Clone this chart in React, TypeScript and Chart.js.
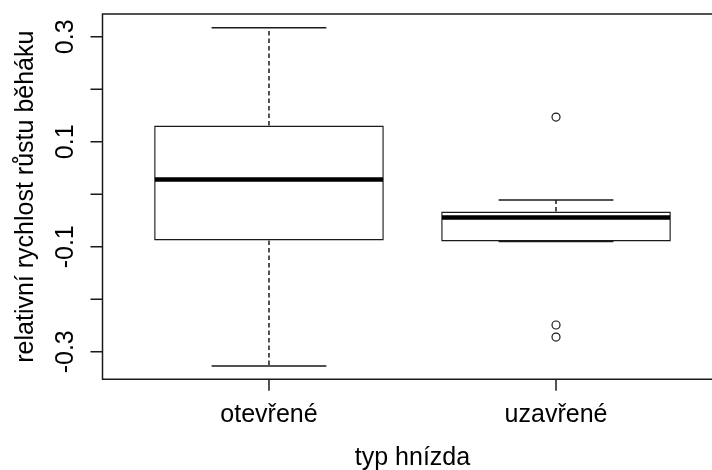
import React, { useEffect, useRef } from 'react';
import { Chart, registerables } from 'chart.js';

Chart.register(...registerables);

// Summary statistics per nest type (hind-limb relative growth rate)
const categories = ['otevřené', 'uzavřené'];
const lowerWhisker = [-0.327, -0.09];
const lowerQuartile = [-0.088, -0.09];
const medians = [0.028, -0.044];
const upperQuartile = [0.131, -0.033];
const upperWhisker = [0.317, -0.011];
const outlierValues: number[][] = [[], [0.147, -0.249, -0.272]];

const yTickValues = [-0.3, -0.2, -0.1, 0, 0.1, 0.2, 0.3];
const yTickLabels = ['-0.3', '', '-0.1', '', '0.1', '', '0.3'];

const xTitle = 'typ hnízda';
const yTitle = 'relativní rychlost růstu běháku';

const CANVAS_W = 740;
const CANVAS_H = 470;
const FONT = '25px "Liberation Sans", Arial, sans-serif';
const INK = '#1a1a1a';
const LINE_W = 1.5;

const boxPlotPlugin = {
  id: 'boxPlotParts',
  afterDatasetsDraw(chart: any) {
    const { ctx, scales } = chart;
    const x = scales.x;
    const y = scales.y;
    ctx.save();
    ctx.strokeStyle = INK;
    ctx.lineWidth = LINE_W;
    categories.forEach((_, i) => {
      const cx = x.getPixelForValue(i + 1);
      const capHalf = x.getPixelForValue(i + 1.2) - cx;
      const boxHalf = x.getPixelForValue(i + 1.4) - cx;
      // dashed whiskers
      ctx.setLineDash([4.5, 3]);
      ctx.beginPath();
      ctx.moveTo(cx, y.getPixelForValue(upperQuartile[i]));
      ctx.lineTo(cx, y.getPixelForValue(upperWhisker[i]));
      ctx.moveTo(cx, y.getPixelForValue(lowerQuartile[i]));
      ctx.lineTo(cx, y.getPixelForValue(lowerWhisker[i]));
      ctx.stroke();
      // whisker caps
      ctx.setLineDash([]);
      ctx.beginPath();
      const yu = y.getPixelForValue(upperWhisker[i]);
      const yl = y.getPixelForValue(lowerWhisker[i]);
      ctx.moveTo(cx - capHalf, yu);
      ctx.lineTo(cx + capHalf, yu);
      ctx.moveTo(cx - capHalf, yl);
      ctx.lineTo(cx + capHalf, yl);
      ctx.stroke();
      // median
      ctx.lineWidth = 4.5;
      ctx.strokeStyle = '#000';
      ctx.beginPath();
      const ym = y.getPixelForValue(medians[i]);
      ctx.moveTo(cx - boxHalf + 0.75, ym);
      ctx.lineTo(cx + boxHalf - 0.75, ym);
      ctx.stroke();
      ctx.lineWidth = LINE_W;
      ctx.strokeStyle = INK;
    });
    ctx.restore();
  },
  afterDraw(chart: any) {
    const { ctx, chartArea, scales } = chart;
    const x = scales.x;
    const y = scales.y;
    const { left, right, top, bottom } = chartArea;
    ctx.save();
    ctx.strokeStyle = INK;
    ctx.lineWidth = LINE_W;
    // plot frame (the right side lies beyond the visible area)
    ctx.beginPath();
    ctx.moveTo(right + 2, top);
    ctx.lineTo(left, top);
    ctx.lineTo(left, bottom);
    ctx.lineTo(right + 2, bottom);
    ctx.stroke();
    // y axis ticks
    ctx.beginPath();
    yTickValues.forEach((v) => {
      const py = y.getPixelForValue(v);
      ctx.moveTo(left, py);
      ctx.lineTo(left - 12, py);
    });
    // x axis ticks
    categories.forEach((_, i) => {
      const px = x.getPixelForValue(i + 1);
      ctx.moveTo(px, bottom);
      ctx.lineTo(px, bottom + 11.5);
    });
    ctx.stroke();

    ctx.fillStyle = '#000';
    ctx.font = FONT;
    ctx.textAlign = 'center';
    ctx.textBaseline = 'alphabetic';
    // category labels
    categories.forEach((c, i) => {
      ctx.fillText(c, x.getPixelForValue(i + 1), 421.5);
    });
    // x title
    ctx.fillText(xTitle, (left + right) / 2, 465);
    // y tick labels (vertical)
    yTickValues.forEach((v, i) => {
      if (!yTickLabels[i]) return;
      ctx.save();
      ctx.translate(72.5, y.getPixelForValue(v));
      ctx.rotate(-Math.PI / 2);
      ctx.fillText(yTickLabels[i], 0, 0);
      ctx.restore();
    });
    // y title
    ctx.save();
    ctx.translate(33, (top + bottom) / 2);
    ctx.rotate(-Math.PI / 2);
    ctx.fillText(yTitle, 0, 0);
    ctx.restore();
    ctx.restore();
  },
};

export default function App() {
  const canvasRef = useRef<HTMLCanvasElement | null>(null);

  useEffect(() => {
    const canvas = canvasRef.current;
    if (!canvas) return;
    const chart = new Chart(canvas, {
      type: 'bar',
      data: {
        datasets: [
          {
            type: 'bar',
            data: categories.map((_, i) => ({
              x: i + 1,
              y: [lowerQuartile[i], upperQuartile[i]],
            })) as any,
            backgroundColor: '#ffffff',
            borderColor: INK,
            borderWidth: LINE_W,
            borderSkipped: false,
            categoryPercentage: 1,
            barPercentage: 0.8,
          } as any,
          {
            type: 'scatter',
            data: outlierValues.flatMap((vals, i) =>
              vals.map((v) => ({ x: i + 1, y: v }))
            ),
            pointStyle: 'circle',
            pointRadius: 4,
            pointBorderWidth: 1.2,
            borderColor: INK,
            backgroundColor: 'rgba(0,0,0,0)',
          } as any,
        ],
      },
      options: {
        responsive: false,
        animation: false,
        devicePixelRatio: 1,
        layout: {
          padding: {
            left: 102.5,
            top: 14,
            right: CANVAS_W - 722.5,
            bottom: CANVAS_H - 379.3,
          },
        },
        plugins: {
          legend: { display: false },
          tooltip: { enabled: false },
        },
        scales: {
          x: {
            type: 'linear',
            display: false,
            offset: false,
            min: 0.42,
            max: 2.58,
            afterBuildTicks: (scale: any) => {
              scale.ticks = categories.map((_, i) => ({ value: i + 1 }));
            },
          },
          y: {
            type: 'linear',
            display: false,
            min: -0.3524,
            max: 0.3434,
          },
        },
      },
      plugins: [boxPlotPlugin],
    });
    return () => chart.destroy();
  }, []);

  return (
    <div
      style={{
        position: 'fixed',
        left: 0,
        top: 0,
        width: 712,
        height: 470,
        overflow: 'hidden',
        background: '#ffffff',
      }}
    >
      <canvas
        ref={canvasRef}
        width={CANVAS_W}
        height={CANVAS_H}
        style={{ width: CANVAS_W, height: CANVAS_H, display: 'block' }}
      />
    </div>
  );
}
